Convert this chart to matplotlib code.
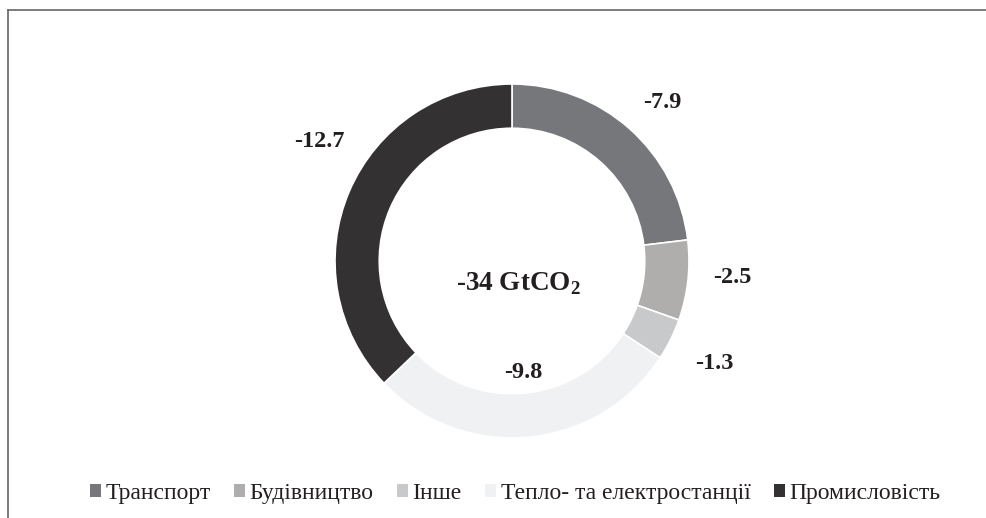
import matplotlib.pyplot as plt
from matplotlib.patches import Patch
from matplotlib.lines import Line2D

sectors = ['Транспорт', 'Будівництво', 'Інше', 'Тепло- та електростанції', 'Промисловість']
values = [7.9, 2.5, 1.3, 9.8, 12.7]
labels = ['-7.9', '-2.5', '-1.3', '-9.8', '-12.7']
colors = ['#76777b', '#b0aeac', '#c8c9cb', '#f0f1f3', '#333132']
total_label = '-34 GtCO$_\\mathbf{2}$'

# label positions (figure fraction)
label_pos = [(0.671, 0.803), (0.742, 0.465), (0.724, 0.299), (0.530, 0.280), (0.324, 0.726)]

plt.rcParams['font.family'] = ['Liberation Serif', 'DejaVu Serif']
plt.rcParams['mathtext.fontset'] = 'custom'
plt.rcParams['mathtext.rm'] = 'Liberation Serif'
plt.rcParams['mathtext.bf'] = 'Liberation Serif:bold'

fig = plt.figure(figsize=(9.87, 5.18), dpi=100)
ax = fig.add_axes([0.0, 0.0, 1.0, 1.0])

ax.pie(values, colors=colors, startangle=90, counterclock=False,
       radius=1.0, center=(0, 0),
       wedgeprops=dict(width=0.25, edgecolor='white', linewidth=1.2))
ax.set_aspect('equal')
# keep the donut at its place in the frame
R = 177.0
cx, cy = 512.0, 518 - 261.0
ax.set_xlim(-cx / R, (987 - cx) / R)
ax.set_ylim(-cy / R, (518 - cy) / R)
ax.axis('off')

for lab, (x, y) in zip(labels, label_pos):
    fig.text(x, y, lab, ha='center', va='center', fontsize=17.5, fontweight='bold', color='#231f20')

fig.text(0.525, 0.452, total_label, ha='center', va='center', fontsize=19.5, fontweight='bold', color='#231f20')

# frame: left and top lines only
fig.add_artist(Line2D([0.0078, 0.0078], [0.0, 0.981], color='#666666', lw=1.2))
fig.add_artist(Line2D([0.0078, 1.0], [0.981, 0.981], color='#666666', lw=1.2))

handles = [Patch(facecolor=c, edgecolor='none') for c in colors]
fig.legend(handles, sectors, loc='center', bbox_to_anchor=(0.522, 0.048), ncol=5,
           frameon=False, fontsize=17, handlelength=0.45, handleheight=0.45,
           handletextpad=0.2, columnspacing=1.0, labelcolor='#231f20')

fig.savefig('out.png', dpi=100)
